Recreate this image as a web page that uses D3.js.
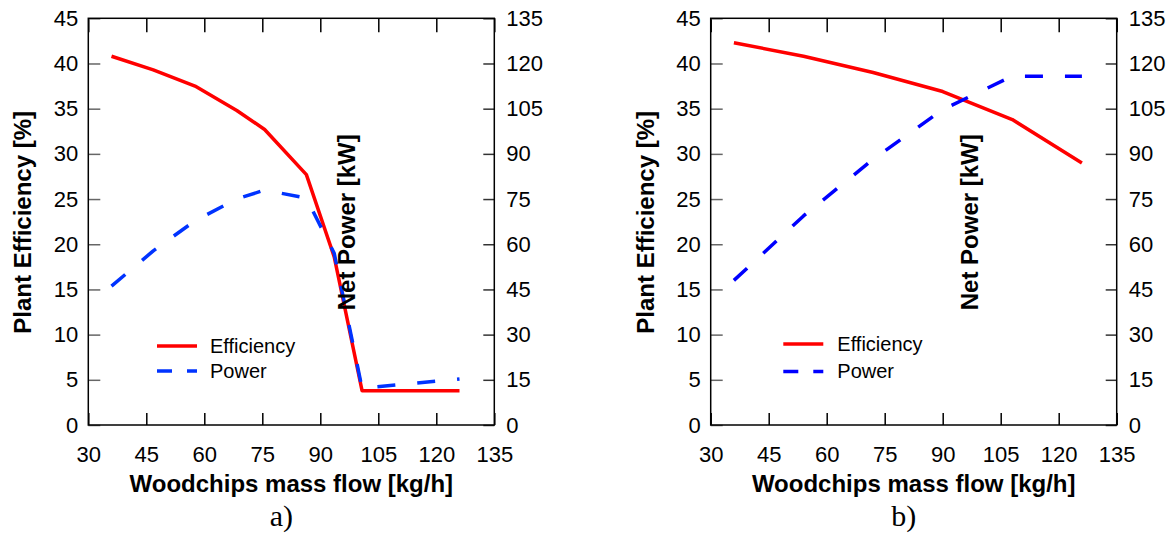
<!DOCTYPE html>
<html>
<head>
<meta charset="utf-8">
<script src="https://cdn.jsdelivr.net/npm/d3@7"></script>
<style>
  body { margin: 0; background: #fff; }
  svg { display: block; font-family: "Liberation Sans", Arial, sans-serif; }
  .tickText { font-size: 22px; fill: #000; }
  .axisTitle { font-size: 24px; font-weight: bold; fill: #000; }
  .legendText { font-size: 20px; fill: #000; }
  .panelLabel { font-family: "Liberation Serif", "Times New Roman", serif; font-size: 30px; fill: #000; }
</style>
</head>
<body>
<div id="chart"></div>
<script>
// data
var massFlowA = [36, 46.8, 57.6, 68.4, 75.6, 86.4, 93.6, 100.8, 126];
var efficiencyA = [40.8, 39.3, 37.5, 34.8, 32.7, 27.7, 18.6, 3.8, 3.8];
var powerA = [46.1, 57.8, 67.8, 75.0, 78.0, 75.3, 57.0, 12.2, 15.3];

var massFlowB = [36, 54, 72, 90, 108, 126];
var efficiencyB = [42.3, 40.8, 39.0, 36.9, 33.8, 29.0];
var powerB = [48.0, 69.4, 88.2, 104.7, 115.8, 115.8];

var xTicks = [30, 45, 60, 75, 90, 105, 120, 135];
var effTicks = [0, 5, 10, 15, 20, 25, 30, 35, 40, 45];
var powerTicks = [0, 15, 30, 45, 60, 75, 90, 105, 120, 135];

var seriesNames = ["Efficiency", "Power"];
var panelNames = ["a)", "b)"];
var xTitle = "Woodchips mass flow [kg/h]";
var yTitle = "Plant Efficiency [%]";
var y2Title = "Net Power [kW]";

var svgWidth = 1171;
var svgHeight = 534;
var plotWidth = 406;
var plotHeight = 406.7;

var svg = d3.select("#chart")
  .append("svg")
  .attr("width", svgWidth)
  .attr("height", svgHeight);

var panels = [
  { left: 88.3, top: 18.3, flow: massFlowA, eff: efficiencyA, power: powerA,
    blue: "#0033ff", legX: 68.7, legTextX: 121.7, legY: [327.7, 352.7], name: panelNames[0] },
  { left: 710.7, top: 18.3, flow: massFlowB, eff: efficiencyB, power: powerB,
    blue: "#0000ff", legX: 72.6, legTextX: 126.6, legY: [325.7, 353.2], name: panelNames[1] }
];

panels.forEach(function(p) {
  var g = svg.append("g")
    .attr("transform", `translate(${p.left}, ${p.top})`);

  var xScale = d3.scaleLinear().domain([30, 135]).range([0, plotWidth]);
  var yEff = d3.scaleLinear().domain([0, 45]).range([plotHeight, 0]);
  var yPow = d3.scaleLinear().domain([0, 135]).range([plotHeight, 0]);

  // inward ticks on all four sides
  var bottomAxis = g.append("g")
    .attr("transform", `translate(0, ${plotHeight})`)
    .call(d3.axisBottom(xScale).tickValues(xTicks).tickSize(-12).tickPadding(21));
  bottomAxis.selectAll("text").attr("class", "tickText").attr("dy", "0.72em").attr("font-family", null).attr("font-size", null);

  g.append("g")
    .call(d3.axisTop(xScale).tickValues(xTicks).tickSize(-14).tickFormat(""));

  var leftAxis = g.append("g")
    .call(d3.axisLeft(yEff).tickValues(effTicks).tickSize(-12).tickPadding(10));
  leftAxis.selectAll("text").attr("class", "tickText").attr("font-family", null).attr("font-size", null);
  leftAxis.selectAll("line").attr("stroke", "#666");

  var rightAxis = g.append("g")
    .attr("transform", `translate(${plotWidth}, 0)`)
    .call(d3.axisRight(yPow).tickValues(powerTicks).tickSize(-11).tickPadding(12));
  rightAxis.selectAll("text").attr("class", "tickText").attr("font-family", null).attr("font-size", null);
  rightAxis.selectAll("line").attr("stroke", "#333");

  g.selectAll(".domain").remove();
  g.selectAll(".tick line").attr("stroke-width", 1.5);

  g.append("rect")
    .attr("width", plotWidth)
    .attr("height", plotHeight)
    .attr("fill", "none")
    .attr("stroke", "#000")
    .attr("stroke-width", 1.5);

  var effLine = d3.line()
    .x(function(d, i) { return xScale(p.flow[i]); })
    .y(function(d) { return yEff(d); });
  var powLine = d3.line()
    .x(function(d, i) { return xScale(p.flow[i]); })
    .y(function(d) { return yPow(d); });

  g.append("path")
    .attr("d", effLine(p.eff))
    .attr("fill", "none")
    .attr("stroke", "#ff0000")
    .attr("stroke-width", 3.5)
    .attr("stroke-linejoin", "round");

  g.append("path")
    .attr("d", powLine(p.power))
    .attr("fill", "none")
    .attr("stroke", p.blue)
    .attr("stroke-width", 3.5)
    .attr("stroke-dasharray", "18,22")
    .attr("stroke-linejoin", "round");

  // legend
  g.append("line")
    .attr("x1", p.legX).attr("x2", p.legX + 40)
    .attr("y1", p.legY[0]).attr("y2", p.legY[0])
    .attr("stroke", "#ff0000").attr("stroke-width", 3.5);
  g.append("line")
    .attr("x1", p.legX).attr("x2", p.legX + 40)
    .attr("y1", p.legY[1]).attr("y2", p.legY[1])
    .attr("stroke", p.blue).attr("stroke-width", 3.5)
    .attr("stroke-dasharray", "15,15");
  seriesNames.forEach(function(name, i) {
    g.append("text")
      .attr("class", "legendText")
      .attr("x", p.legTextX)
      .attr("y", p.legY[i])
      .attr("dy", "0.35em")
      .text(name);
  });

  // axis titles
  g.append("text")
    .attr("class", "axisTitle")
    .attr("text-anchor", "middle")
    .attr("x", plotWidth / 2)
    .attr("y", 473.5)
    .text(xTitle);

  g.append("text")
    .attr("class", "axisTitle")
    .attr("text-anchor", "middle")
    .attr("transform", `translate(-57, 204) rotate(-90)`)
    .text(yTitle);

  g.append("text")
    .attr("class", "axisTitle")
    .attr("text-anchor", "middle")
    .attr("transform", `translate(267, 204) rotate(-90)`)
    .text(y2Title);

  g.append("text")
    .attr("class", "panelLabel")
    .attr("text-anchor", "middle")
    .attr("x", plotWidth / 2 - 10)
    .attr("y", 508)
    .text(p.name);
});
</script>
</body>
</html>
